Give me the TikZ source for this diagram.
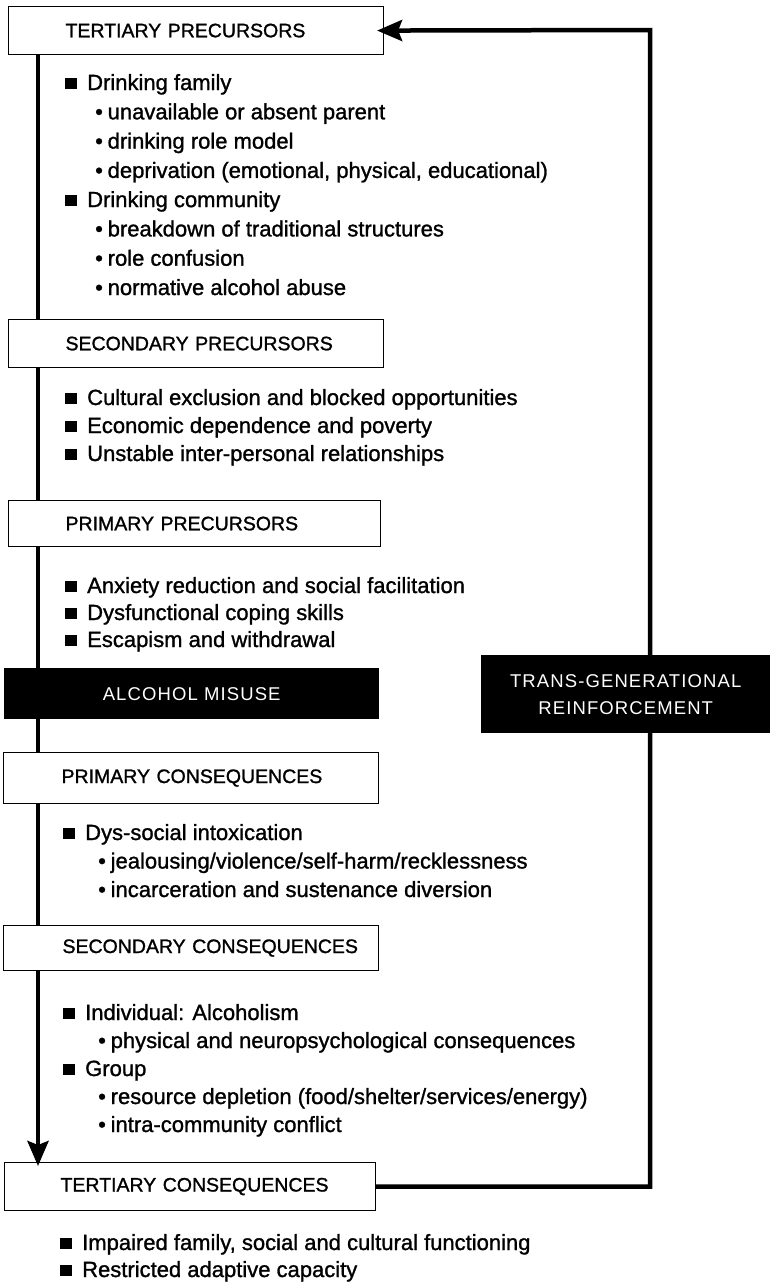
\documentclass[tikz,border=0pt]{standalone}
\usepackage{fontspec}
\setmainfont{Liberation Sans}[FakeBold=1.2]
\newfontfamily\spacedfont{Liberation Sans}[LetterSpace=6]
\usetikzlibrary{arrows.meta}
\newcommand\sq{\raisebox{0.8pt}{\rule{11.5pt}{11.5pt}}\hspace{10.5pt}}
\newcommand\dt{\makebox[12.5pt][l]{\textbullet}}
\begin{document}
\begin{tikzpicture}[x=1pt,y=-1pt,
  hbox/.style={draw, fill=white, line width=1.1pt, anchor=north west, inner sep=0pt,
    text width=375pt, align=left, font=\fontsize{19.5}{22}\selectfont},
  bbox/.style={fill=black, text=white, anchor=north west, inner sep=0pt, align=center,
    font=\spacedfont\fontsize{18.5}{27}\selectfont},
  item/.style={anchor=base west, inner sep=0pt, font=\fontsize{22}{24}\selectfont},
  flow/.style={line width=4.5pt},
  headarrow/.style={-{Stealth[length=25pt,width=21pt,inset=4pt]}}]
\fill[white] (0,0) rectangle (772,1286);
\useasboundingbox (0,0) rectangle (772,1286);
% boxes
\node[hbox, minimum height=48pt] (tp) at (8,6) {\hspace*{57pt}TERTIARY PRECURSORS};
\node[hbox, minimum height=48pt] (sp) at (8,319) {\hspace*{57pt}SECONDARY PRECURSORS};
\node[hbox, minimum height=46pt, text width=372pt] (pp) at (8,500) {\hspace*{57pt}PRIMARY PRECURSORS};
\node[bbox, minimum width=375pt, minimum height=51pt] (am) at (4,668) {ALCOHOL MISUSE};
\node[hbox, minimum height=51pt] (pc) at (3,752) {\hspace*{58pt}PRIMARY CONSEQUENCES};
\node[hbox, minimum height=45pt] (sc) at (3,925) {\hspace*{59pt}SECONDARY CONSEQUENCES};
\node[hbox, minimum height=48pt, text width=371pt] (tc) at (4,1162) {\hspace*{56pt}TERTIARY CONSEQUENCES};
% left flow
\coordinate (vx) at (38,0);
\draw[flow] (tp.south -| vx) -- (sp.north -| vx);
\draw[flow] (sp.south -| vx) -- (pp.north -| vx);
\draw[flow] (pp.south -| vx) -- (am.north -| vx);
\draw[flow] (am.south -| vx) -- (pc.north -| vx);
\draw[flow] (pc.south -| vx) -- (sc.north -| vx);
\draw[flow, headarrow, shorten >=-4pt] (sc.south -| vx) -- (tc.north -| vx);
% feedback loop
\coordinate (rc) at (650,30);
\draw[flow, headarrow, line join=miter, shorten >=-7pt] (tc.east) -| (rc) -- (tp.east);
\node[bbox, minimum width=289pt, minimum height=78pt] (tg) at (481,655) {TRANS-GENERATIONAL\\REINFORCEMENT};
% tertiary precursors
\node[item] (t1) at (65,90) {\sq Drinking family};
\node[item] (t2) at (95,119.3) {\dt unavailable or absent parent};
\node[item] (t3) at (95,148.6) {\dt drinking role model};
\node[item] (t4) at (95,177.9) {\dt deprivation (emotional, physical, educational)};
\node[item] (t5) at (65,207.1) {\sq Drinking community};
\node[item] (t6) at (95,236.4) {\dt breakdown of traditional structures};
\node[item] (t7) at (95,265.7) {\dt role confusion};
\node[item] (t8) at (95,295) {\dt normative alcohol abuse};
% secondary precursors
\node[item] (s1) at (65,405) {\sq Cultural exclusion and blocked opportunities};
\node[item] (s2) at (65,433) {\sq Economic dependence and poverty};
\node[item] (s3) at (65,461) {\sq Unstable inter-personal relationships};
% primary precursors
\node[item] (p1) at (65,593) {\sq Anxiety reduction and social facilitation};
\node[item] (p2) at (65,620) {\sq Dysfunctional coping skills};
\node[item] (p3) at (65,647) {\sq Escapism and withdrawal};
% primary consequences
\node[item] (c1) at (63,840) {\sq Dys-social intoxication};
\node[item] (c2) at (98,868.5) {\dt jealousing/violence/self-harm/recklessness};
\node[item] (c3) at (98,897) {\dt incarceration and sustenance diversion};
% secondary consequences
\node[item] (d1) at (63,1020) {\sq Individual: Alcoholism};
\node[item] (d2) at (98,1048) {\dt physical and neuropsychological consequences};
\node[item] (d3) at (63,1076) {\sq Group};
\node[item] (d4) at (98,1104) {\dt resource depletion (food/shelter/services/energy)};
\node[item] (d5) at (98,1132) {\dt intra-community conflict};
% tertiary consequences
\node[item] (e1) at (60,1250) {\sq Impaired family, social and cultural functioning};
\node[item] (e2) at (60,1277) {\sq Restricted adaptive capacity};
\end{tikzpicture}
\end{document}
